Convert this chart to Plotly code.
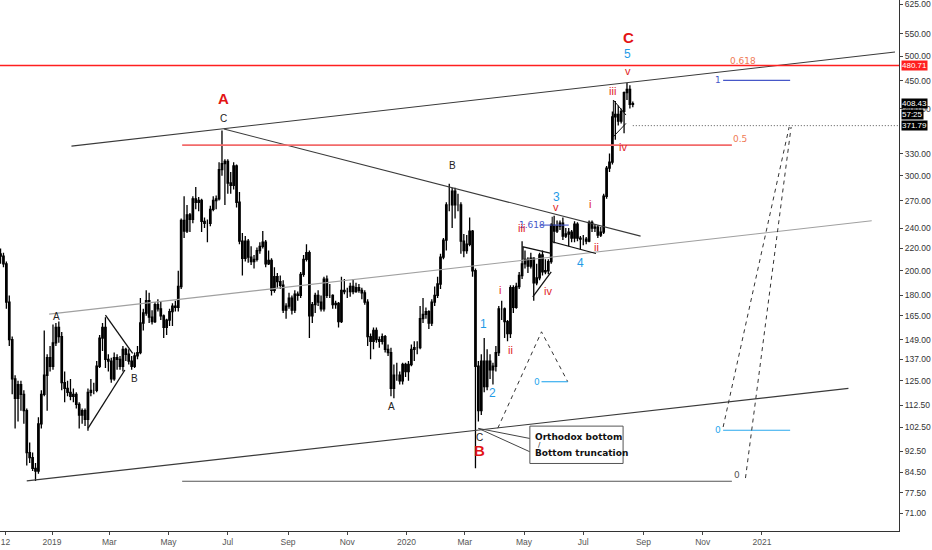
import numpy as np
import pandas as pd
import plotly.graph_objects as go

# ---------------- data: ETH/USD, 3-day candles ----------------
first_candle_mid = "2018-11-09"
open_ = [215,213,206,175,149,126,116,123,118,110,
         92,90,86,85,104,118,128,138,133,147,
         157,151,124,121,119,117,118,113,108,110,
         106,119,120,120,133,150,157,137,136,126,
         138,137,133,143,140,136,133,139,141,160,
         167,176,164,161,173,170,165,157,162,168,
         172,171,187,248,237,254,249,272,268,270,
         247,245,245,260,270,272,308,316,319,291,
         288,313,268,227,211,227,212,208,210,218,
         222,226,206,209,184,195,191,188,169,172,
         178,169,181,180,197,210,216,165,173,180,
         175,170,193,180,180,173,174,161,184,183,
         183,187,183,186,184,182,175,151,148,155,
         149,148,151,143,141,121,128,128,125,134,
         130,134,143,144,144,163,166,168,160,175,
         180,189,212,228,265,265,281,265,265,227,
         218,224,237,200,133,110,136,122,136,131,
         133,141,170,170,161,153,186,171,187,196,
         206,210,204,211,190,194,214,199,200,208,
         243,237,242,245,232,234,236,230,244,230,
         229,229,227,246,240,241,233,236,275,310,
         318,386,390,379,395,428,434,407]
high = [220,216,208,180,151,128,125,125,120,111,
        96,92,88,107,120,155,140,145,159,160,
        161,154,130,125,126,121,119,114,111,111,
        121,126,124,136,152,160,164,140,138,141,
        140,139,145,144,143,139,141,145,178,170,
        184,182,169,175,177,175,166,163,170,174,
        176,200,250,275,265,256,275,286,274,272,
        251,249,264,275,276,318,364,322,322,305,
        318,315,280,235,232,229,222,214,221,226,
        237,228,218,211,203,198,196,192,174,182,
        180,184,183,199,214,224,218,175,182,184,
        180,195,196,189,181,176,175,195,193,186,
        190,193,190,189,186,184,177,153,157,157,
        151,153,152,146,144,134,135,130,135,135,
        136,146,148,148,172,178,171,169,177,187,
        195,215,230,268,290,285,285,278,268,234,
        233,251,238,202,136,140,150,143,140,135,
        145,172,176,171,162,188,188,190,199,227,
        218,212,216,212,206,216,218,210,210,245,
        253,248,248,251,240,240,238,247,246,232,
        233,231,248,248,244,243,241,278,313,330,
        395,413,405,400,430,446,442,412]
low = [206,203,170,145,118,102,105,110,104,87,
       88,85,81.5,84,102,117,110,130,131,145,
       147,120,114,117,115,114,111,102,104,103,
       101,117,118,119,132,142,132,130,124,125,
       131,131,130,136,134,131,132,137,140,155,
       165,160,159,160,168,162,150,152,158,158,
       168,168,185,230,235,236,245,260,258,236,
       240,226,242,258,260,270,300,265,278,278,
       283,262,224,196,208,207,205,202,208,215,
       220,203,205,180,182,186,185,167,163,170,
       166,167,176,178,195,208,150,160,167,172,
       168,168,178,178,170,170,157,160,181,178,
       179,181,182,182,177,173,145,137,143,147,
       144,146,141,139,117,116,125,123,123,127,
       125,133,136,140,143,160,163,156,158,172,
       178,185,210,218,258,240,250,258,215,212,
       215,222,195,86,105,108,119,120,126,123,
       130,139,162,150,148,150,167,170,185,193,
       202,198,202,176,188,192,196,197,197,206,
       225,235,238,228,230,222,226,226,227,219,
       223,224,226,236,236,230,231,234,272,305,
       315,350,372,375,360,415,400,402]
close = [213,206,175,149,126,116,123,118,110,92,
         90,86,85,104,118,128,138,133,147,157,
         151,124,121,119,117,118,113,108,110,106,
         119,120,120,133,150,157,137,136,126,138,
         137,133,143,140,136,133,139,141,160,167,
         176,164,161,173,170,165,157,162,168,172,
         171,187,248,237,254,249,272,268,270,247,
         245,245,260,270,272,308,316,319,291,288,
         313,268,227,211,227,212,208,210,218,222,
         226,206,209,184,195,191,188,169,172,178,
         169,181,180,197,210,216,165,173,180,175,
         170,193,180,180,173,174,161,184,183,183,
         187,183,186,184,182,175,151,148,155,149,
         148,151,143,141,121,128,128,125,134,130,
         134,143,144,144,163,166,168,160,175,180,
         189,212,228,265,265,281,265,265,227,218,
         224,237,200,133,110,136,122,136,131,133,
         141,170,170,161,153,186,171,187,196,206,
         210,204,211,190,194,214,199,200,208,243,
         237,242,245,232,234,236,230,244,230,229,
         229,227,246,240,241,233,236,275,310,318,
         386,390,379,395,428,434,407,408.43]

n = min(len(open_), len(high), len(low), len(close))
dates = pd.date_range(first_candle_mid, periods=n, freq="3D")

# key price levels
last_price = 408.43
level_618 = 480.71
level_stop = 371.79
countdown = "57:25"
countdown_y = 390.5

# axis ticks
y_ticks = [625, 550, 500, 450, 400, 330, 300, 270, 240, 220, 200, 180, 165, 149, 137, 125, 112.5, 102.5, 92.5, 84.5, 77.5, 71]
x_tick_dates = ["2018-11-14", "2019-01-01", "2019-03-01", "2019-05-01", "2019-07-01", "2019-09-01", "2019-11-01",
                "2020-01-01", "2020-03-01", "2020-05-01", "2020-07-01", "2020-09-01", "2020-11-01", "2021-01-01"]
x_tick_text = ["12", "2019", "Mar", "May", "Jul", "Sep", "Nov", "2020", "Mar", "May", "Jul", "Sep", "Nov", "2021"]

x_start = "2018-11-08 10:30"
x_end = "2021-05-22 02:00"
y_min, y_max = 65.8, 635.9

# ---------------- drawings (date, price) ----------------
upper_channel = (["2019-01-21", "2021-05-18"], [340.7, 509.1])
lower_channel = (["2018-12-06", "2021-03-31"], [81.5, 121.0])
mid_channel = (["2018-12-29", "2021-04-24"], [166.2, 247.6])
desc_line = (["2019-06-27", "2020-08-29"], [366.4, 231.9])
fib_05 = (["2019-05-15", "2020-12-01"], [342.1, 342.1])
fib_1 = (["2020-11-22", "2021-01-30"], [451.1, 451.1])
fib_0_low = (["2020-11-22", "2021-01-30"], [101.2, 101.2])
gray_0 = (["2019-05-15", "2020-12-01"], [81.4, 81.4])
dash_1 = (["2020-11-22", "2021-01-29"], [102.6, 369.6])
dash_2 = (["2020-12-15", "2021-01-31"], [82.5, 369.6])
dotted_tri = (["2020-04-04", "2020-05-19", "2020-06-15"], [102.1, 154.1, 124.5])
fib_0_mid = (["2020-05-19", "2020-06-15"], [124.5, 124.5])
fib_1618 = (["2020-05-17", "2020-06-16"], [243.1, 243.1])
tri19_low = (["2019-02-07", "2019-03-17"], [102.0, 130.9])
tri19_up = (["2019-02-25", "2019-03-25"], [165.5, 140.5])
tri_may_up = (["2020-04-30", "2020-04-30", "2020-05-29"], [210.0, 221.6, 215.4])
tri_may_low = (["2020-05-10", "2020-05-29"], [178.9, 199.1])
w4_low = (["2020-05-30", "2020-05-30", "2020-07-14"], [251.9, 226.4, 215.4])
tri_aug = (["2020-08-14", "2020-08-01", "2020-08-01", "2020-08-14"], [389.0, 414.7, 354.6, 375.4])
pointers = (["2020-05-07", "2020-03-15", "2020-05-07"], [97.7, 102.0, 92.3])
callout_box = (["2020-05-07", "2020-08-11", "2020-08-11", "2020-05-07", "2020-05-07"],
               [103.0, 103.0, 87.8, 87.8, 103.0])

# wave labels: (text, date, price, colour, size, bold)
RED_BIG = "#e31414"
RED_SM = "#e01e1e"
BLUE = "#1f9be6"
wave_labels = [
    ("A", "2019-06-27", 418.2, RED_BIG, 15, True),
    ("C", "2019-06-27", 384.0, "#222", 10, False),
    ("A", "2019-01-06", 164.8, "#222", 10, False),
    ("B", "2019-03-27", 126.3, "#222", 10, False),
    ("A", "2019-12-17", 111.8, "#222", 10, False),
    ("B", "2020-02-17", 314.2, "#222", 10, False),
    ("C", "2020-03-16", 98.0, "#222", 10, False),
    ("B", "2020-03-16", 92.9, RED_BIG, 15, True),
    ("1", "2020-03-20", 159.0, BLUE, 12, False),
    ("2", "2020-03-30", 118.5, BLUE, 12, False),
    ("3", "2020-06-03", 274.4, BLUE, 12, False),
    ("4", "2020-06-28", 206.4, BLUE, 12, False),
    ("5", "2020-08-16", 504.8, BLUE, 12, False),
    ("C", "2020-08-17", 542.1, RED_BIG, 15, True),
    ("i", "2020-04-06", 184.1, RED_SM, 11, False),
    ("ii", "2020-04-17", 142.5, RED_SM, 11, False),
    ("iii", "2020-04-28", 239.7, RED_SM, 11, False),
    ("iv", "2020-05-26", 183.4, RED_SM, 11, False),
    ("v", "2020-06-03", 262.2, RED_SM, 11, False),
    ("i", "2020-07-08", 265.6, RED_SM, 11, False),
    ("ii", "2020-07-15", 221.6, RED_SM, 11, False),
    ("iii", "2020-07-31", 430.9, RED_SM, 11, False),
    ("iv", "2020-08-11", 338.8, RED_SM, 11, False),
    ("v", "2020-08-16", 470.0, RED_SM, 11, False),
]
fib_labels = [
    ("1.618", "2020-05-09", 243.1, "#4657c8"),
    ("0.618", "2020-12-12", 489.9, "#f07a55"),
    ("0.5", "2020-12-09", 351.1, "#f07a55"),
    ("1", "2020-11-17", 451.1, "#4657c8"),
    ("0", "2020-11-17", 101.2, "#29a8ee"),
    ("0", "2020-05-14", 124.5, "#29a8ee"),
    ("0", "2020-12-06", 83.5, "#555"),
]

FONT = "DejaVu Sans"
AXFONT = "Liberation Sans"

fig = go.Figure()


def add_line(pts, color, width=1.0, dash="solid", fill=None):
    fig.add_trace(go.Scatter(x=pts[0], y=pts[1], mode="lines",
                             line=dict(color=color, width=width, dash=dash),
                             fill=fill, fillcolor="white" if fill else None,
                             showlegend=False, hoverinfo="skip"))


add_line(upper_channel, "#3a3a3a", 1.1)
add_line(lower_channel, "#3a3a3a", 1.1)
add_line(mid_channel, "#a0a0a0", 1.1)
add_line(desc_line, "#3a3a3a", 1.1)
add_line(([x_start, x_end], [level_618, level_618]), "#ff1f1f", 1.6)
add_line(fib_05, "#f26a6a", 1.6)
add_line(fib_1, "#4657c8", 1.1)
add_line(fib_0_low, "#29a8ee", 1.1)
add_line(gray_0, "#555", 1.1)
add_line(dash_1, "#333", 1, "4px,4px")
add_line(dash_2, "#333", 1, "4px,4px")
add_line(dotted_tri, "#333", 1, "4px,4px")
add_line(fib_0_mid, "#29a8ee", 1.1)
add_line(fib_1618, "#4657c8", 1.1)
add_line(([dates[-1].strftime("%Y-%m-%d"), x_end], [level_stop, level_stop]), "#555", 1, "1px,2px")
add_line(pointers, "#444", 1.0)
add_line(callout_box, "#555", 1.0, fill="toself")

fig.add_trace(go.Candlestick(
    x=dates, open=open_[:n], high=high[:n], low=low[:n], close=close[:n],
    increasing=dict(line=dict(color="#000", width=1.3), fillcolor="#000"),
    decreasing=dict(line=dict(color="#000", width=1.3), fillcolor="#000"),
    whiskerwidth=0, showlegend=False, hoverinfo="skip"))

add_line(tri19_low, "#111", 1.3)
add_line(tri19_up, "#111", 1.3)
add_line(tri_may_up, "#111", 1.3)
add_line(tri_may_low, "#111", 1.3)
add_line(w4_low, "#111", 1.1)
add_line(tri_aug, "#111", 1.0)

ann = []
for t, d, p, c in fib_labels:
    ann.append(dict(x=d, y=np.log10(p), text=t, showarrow=False,
                    font=dict(family=FONT, size=9, color=c), xanchor="center", yanchor="middle"))
for t, d, p, c, s, b in wave_labels:
    ann.append(dict(x=d, y=np.log10(p), text=f"<b>{t}</b>" if b else t, showarrow=False,
                    font=dict(family="Liberation Sans", size=s, color=c),
                    xanchor="center", yanchor="middle"))

# callout text
ann.append(dict(x="2020-05-10", y=np.log10(98.4), text="<b>Orthodox bottom</b>", showarrow=False,
                font=dict(family=FONT, size=9, color="#111"), xanchor="left", yanchor="middle"))
ann.append(dict(x="2020-05-13", y=np.log10(95.0), text="/", showarrow=False,
                font=dict(family=FONT, size=7, color="#111"), xanchor="left", yanchor="middle"))
ann.append(dict(x="2020-05-10", y=np.log10(91.7), text="<b>Bottom truncation</b>", showarrow=False,
                font=dict(family=FONT, size=9, color="#111"), xanchor="left", yanchor="middle"))

# price boxes on the axis
for txt, p, bg in [(f"{level_618:.2f}", level_618, "#ff1f1f"),
                   (f"{last_price:.2f}", last_price, "#000"),
                   (countdown, countdown_y, "#000"),
                   (f"{level_stop:.2f}", level_stop, "#000")]:
    ann.append(dict(xref="paper", x=1.0, y=np.log10(p), text=txt, showarrow=False,
                    xanchor="left", yanchor="middle", bgcolor=bg, borderpad=0,
                    font=dict(family=AXFONT, size=8, color="white"), xshift=2))

fig.update_layout(
    width=932, height=550,
    margin=dict(l=0, r=33, t=0, b=19),
    paper_bgcolor="white", plot_bgcolor="white",
    annotations=ann,
    xaxis=dict(type="date", range=[x_start, x_end], rangeslider=dict(visible=False),
               tickvals=x_tick_dates, ticktext=x_tick_text, ticks="outside", ticklen=3,
               tickcolor="#444", showgrid=False, zeroline=False, showline=True,
               linecolor="#333", linewidth=1, tickfont=dict(family=AXFONT, size=8.5, color="#555")),
    yaxis=dict(type="log", side="right", range=[np.log10(y_min), np.log10(y_max)],
               tickvals=y_ticks, ticktext=[f"{v:.2f}" for v in y_ticks], ticks="outside",
               ticklen=3, tickcolor="#444", showgrid=False, zeroline=False, showline=True,
               ticklabeloverflow="allow",
               linecolor="#333", linewidth=1, tickfont=dict(family=AXFONT, size=8.5, color="#333")),
)

fig.write_html("out.html", config={"displayModeBar": False},
               post_script="document.body.style.margin='0';")
